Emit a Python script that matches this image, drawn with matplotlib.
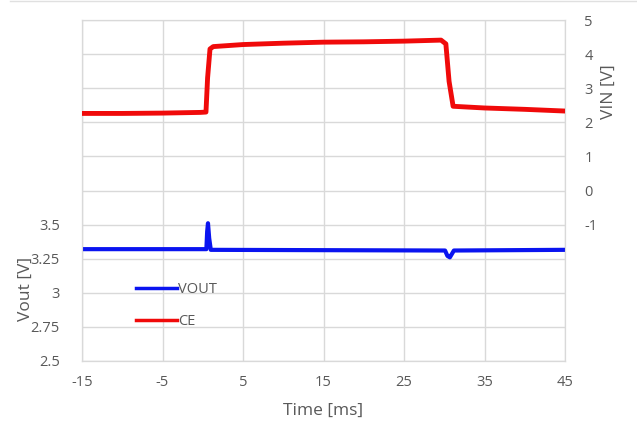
import matplotlib
matplotlib.use('Agg')
import matplotlib.pyplot as plt
from matplotlib.lines import Line2D

ce_t  = [-15, -10, -5, -0.3, 0.4, 0.6, 0.9, 1.3, 5, 10, 15, 20, 25, 29.6, 30.2, 30.6, 31.1, 35, 40, 45]
ce_v  = [2.26, 2.26, 2.27, 2.29, 2.30, 3.3, 4.15, 4.22, 4.28, 4.32, 4.35, 4.36, 4.38, 4.41, 4.30, 3.2, 2.47, 2.42, 2.38, 2.33]

vout_t = [-15, 0.45, 0.55, 0.65, 0.8, 1.0, 30.1, 30.4, 30.7, 31.2, 45]
vout_v = [3.32, 3.32, 3.45, 3.51, 3.40, 3.315, 3.31, 3.27, 3.26, 3.31, 3.315]

x_ticks    = [-15, -5, 5, 15, 25, 35, 45]
vout_ticks = [2.5, 2.75, 3, 3.25, 3.5]
vin_ticks  = [-1, 0, 1, 2, 3, 4, 5]

TXT  = '#595959'
GRID = '#d9d9d9'
plt.rcParams['font.family'] = ['Open Sans', 'DejaVu Sans']

fig = plt.figure(figsize=(6.37, 4.32), dpi=100)
ax = fig.add_axes([82/637, 1-361/432, (565-82)/637, (361-20)/432])
ax2 = ax.twinx()

ax.set_xlim(-15, 45)
ax.set_ylim(2.5, 5.0)
ax2.set_ylim(-5, 5)

# grid: vertical every 10 ms, horizontal every 1 V on the right scale
ax.set_xticks(x_ticks)
ax.set_yticks(vout_ticks)
ax2.set_yticks(vin_ticks)
for xv in x_ticks:
    ax.axvline(xv, color=GRID, lw=1.0, zorder=0)
for k in range(11):
    ax.axhline(2.5 + 0.25*k, color=GRID, lw=1.0, zorder=0)

l_vout, = ax.plot(vout_t, vout_v, color='#0a14f0', lw=3.0, label='VOUT', zorder=3)
l_ce,   = ax2.plot(ce_t, ce_v, color='#f00a0a', lw=3.5, label='CE', zorder=3)

for a in (ax, ax2):
    for s in a.spines.values():
        s.set_color(GRID)
    a.tick_params(length=0, colors=TXT, labelsize=10.5)
ax.spines['bottom'].set_color('#bfbfbf')
ax.spines['left'].set_color('#bfbfbf')
ax.tick_params(axis='x', pad=10)
ax.tick_params(axis='y', pad=16)
ax2.tick_params(axis='y', pad=14)
ax.set_xticklabels([str(v) for v in x_ticks])
ax.set_yticklabels(['2.5', '2.75', '3', '3.25', '3.5'])
ax2.set_yticklabels([str(v) for v in vin_ticks])

ax.set_xlabel('Time [ms]', fontsize=12.5, color=TXT, labelpad=9)
ax.set_ylabel('Vout [V]', fontsize=12.5, color=TXT)
ax.yaxis.set_label_coords(-0.10, 0.21)
ax2.set_ylabel('VIN [V]', fontsize=12.5, color=TXT, rotation=90)
ax2.yaxis.set_label_coords(1.075, 0.79)

leg = ax.legend(handles=[l_vout, l_ce], loc='lower left',
                bbox_to_anchor=(0.085, 0.055), frameon=False, fontsize=10.5,
                handlelength=2.8, handletextpad=0.05, labelspacing=1.2,
                labelcolor=TXT)
for h in leg.legend_handles:
    h.set_linewidth(2.5)

fig.add_artist(Line2D([10/637, 1], [0.998, 0.998], color='#e0e0e0', lw=1.0))

fig.savefig('out.png', dpi=100, facecolor='white')
